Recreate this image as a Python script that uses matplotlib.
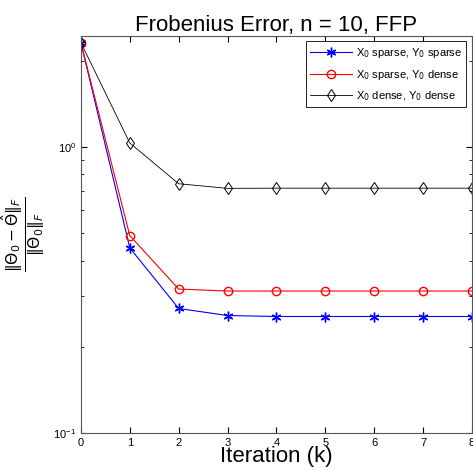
import matplotlib

matplotlib.use("Agg")

import matplotlib.pyplot as plt
from matplotlib.ticker import LogLocator, NullFormatter

plt.rcParams["font.family"] = ["Liberation Sans", "DejaVu Sans"]

# iteration index and relative Frobenius error per initialisation
iterations = [0, 1, 2, 3, 4, 5, 6, 7, 8]
err_sparse_sparse = [2.31, 0.443, 0.272, 0.257, 0.255, 0.255, 0.255, 0.255, 0.255]
err_sparse_dense = [2.31, 0.489, 0.318, 0.313, 0.313, 0.313, 0.313, 0.313, 0.313]
err_dense_dense = [2.31, 1.03, 0.742, 0.715, 0.716, 0.716, 0.716, 0.716, 0.716]

labels = [
    r"X$_0$ sparse, Y$_0$ sparse",
    r"X$_0$ sparse, Y$_0$ dense",
    r"X$_0$ dense, Y$_0$ dense",
]

fig = plt.figure(figsize=(4.73, 4.71), dpi=100)
ax = fig.add_axes([0.171, 0.081, 0.827, 0.843])

ax.semilogy(iterations, err_sparse_sparse, color="blue", marker=(6, 2, 0), markersize=7,
            markeredgewidth=1.0, linewidth=0.8, label=labels[0])
ax.semilogy(iterations, err_sparse_dense, color="red", marker="o", markersize=6,
            markerfacecolor="none", linewidth=0.8, label=labels[1])
ax.semilogy(iterations, err_dense_dense, color="black", marker="d", markersize=6.5,
            markerfacecolor="none", linewidth=0.6, markeredgewidth=0.7, label=labels[2])

ax.set_xlim(0, 8)
ax.set_ylim(0.1, 2.44)
ax.set_xticks(iterations)
ax.yaxis.set_major_locator(LogLocator(base=10))
ax.yaxis.set_minor_locator(LogLocator(base=10, subs=range(2, 10)))
ax.yaxis.set_minor_formatter(NullFormatter())
ax.tick_params(which="both", direction="in", top=True, right=True, labelsize=8)
ax.tick_params(which="major", length=4)
ax.tick_params(which="minor", length=2)
for s in ax.spines.values():
    s.set_color("#555555")

ax.set_title("Frobenius Error, n = 10, FFP", fontsize=16, pad=2)
ax.set_xlabel("Iteration (k)", fontsize=16, labelpad=-1)
ax.set_ylabel(r"$\frac{\|\Theta_0 - \hat{\Theta}\|_F}{\|\Theta_0\|_F}$", fontsize=16, labelpad=4)

leg = ax.legend(loc="upper right", fontsize=8, fancybox=False, framealpha=1,
                edgecolor="black", borderaxespad=0.5, handlelength=3.8,
                handletextpad=0.3, labelspacing=0.7)
leg.get_frame().set_linewidth(0.6)

fig.savefig("out.png", dpi=100)
